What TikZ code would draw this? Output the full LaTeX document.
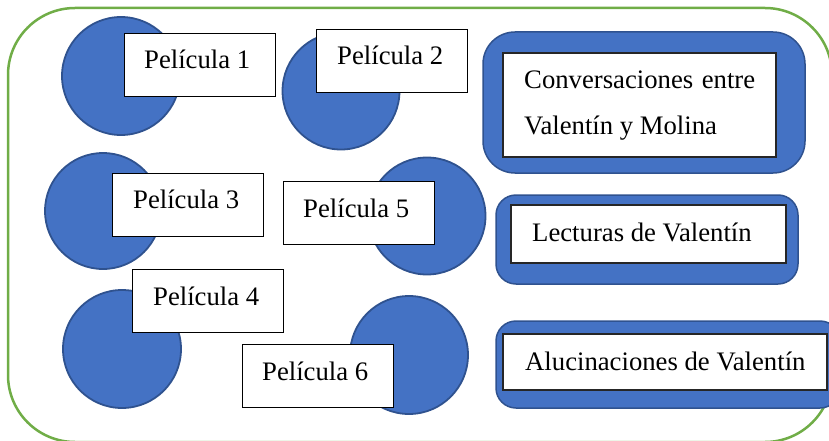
\documentclass[tikz,border=0pt]{standalone}
\usepackage{fontspec}
\setmainfont{Liberation Serif}
\definecolor{blu}{HTML}{4472C4}
\definecolor{dblu}{HTML}{2F528F}
\definecolor{grn}{HTML}{70AD47}
\begin{document}
\begin{tikzpicture}[x=1pt,y=-1pt,
  circ/.style={circle, fill=blu, draw=dblu, line width=1.8pt, minimum size=#1, inner sep=0pt},
  filmbox/.style={rectangle, fill=white, draw=black, line width=1pt, minimum width=151pt, minimum height=63pt, inner sep=0pt},
  outerbox/.style={rectangle, fill=blu, draw=dblu, line width=1.5pt, inner sep=0pt},
  innerbox/.style={rectangle, fill=white, draw=black!85, line width=1.3pt, inner sep=0pt},
  lbl/.style={inner sep=0pt, anchor=base west, font=\fontsize{26.7}{30}\selectfont}]
\useasboundingbox (0,0) rectangle (829,441);
\clip (0,0) rectangle (829,441);
\node[draw=grn, line width=2.5pt, rounded corners=67pt, minimum width=824pt, minimum height=434pt, inner sep=0pt] (frame) at (420,225) {};
% circles
\node[circ=118pt] (c1) at (121,76) {};
\node[circ=117pt] (c2) at (341,91) {};
\node[circ=116pt] (c3) at (103,211) {};
\node[circ=117pt] (c5) at (427,216) {};
\node[circ=118pt] (c4) at (122,349) {};
\node[circ=118pt] (c6) at (409,355) {};
% film boxes
\node[filmbox] (b1) at (199.5,65) {};
\node[filmbox] (b2) at (391.5,61.5) {};
\node[filmbox] (b3) at (187.5,204.5) {};
\node[filmbox] (b5) at (358.5,212.5) {};
\node[filmbox] (b4) at (208,300.5) {};
\node[filmbox] (b6) at (317.5,376) {};
\node[lbl] (t1) at (144,69) {Película 1};
\node[lbl] (t2) at (337,65) {Película 2};
\node[lbl] (t3) at (133,208) {Película 3};
\node[lbl] (t5) at (303,217) {Película 5};
\node[lbl] (t4) at (153,305) {Película 4};
\node[lbl] (t6) at (262,380) {Película 6};
% right boxes
\node[outerbox, rounded corners=32pt, minimum width=322pt, minimum height=141pt] (ra) at (644,102.5) {};
\node[innerbox, minimum width=273pt, minimum height=104pt] (ia) at (639.5,105) {};
\node[lbl] (ta1) at (524,89) {\makebox[231pt][s]{Conversaciones entre}};
\node[lbl] (ta2) at (524,135) {Valentín y Molina};
\node[outerbox, rounded corners=20pt, minimum width=302pt, minimum height=89pt] (rb) at (647,239.5) {};
\node[innerbox, minimum width=275pt, minimum height=58pt] (ib) at (648.5,234) {};
\node[lbl] (tb) at (532,241) {Lecturas de Valentín};
\node[outerbox, rounded corners=20pt, minimum width=344pt, minimum height=87pt] (rc) at (668,364.5) {};
\node[innerbox, minimum width=324pt, minimum height=56pt] (ic) at (665,362) {};
\node[lbl] (tc) at (525,370) {Alucinaciones de Valentín};
\end{tikzpicture}
\end{document}
